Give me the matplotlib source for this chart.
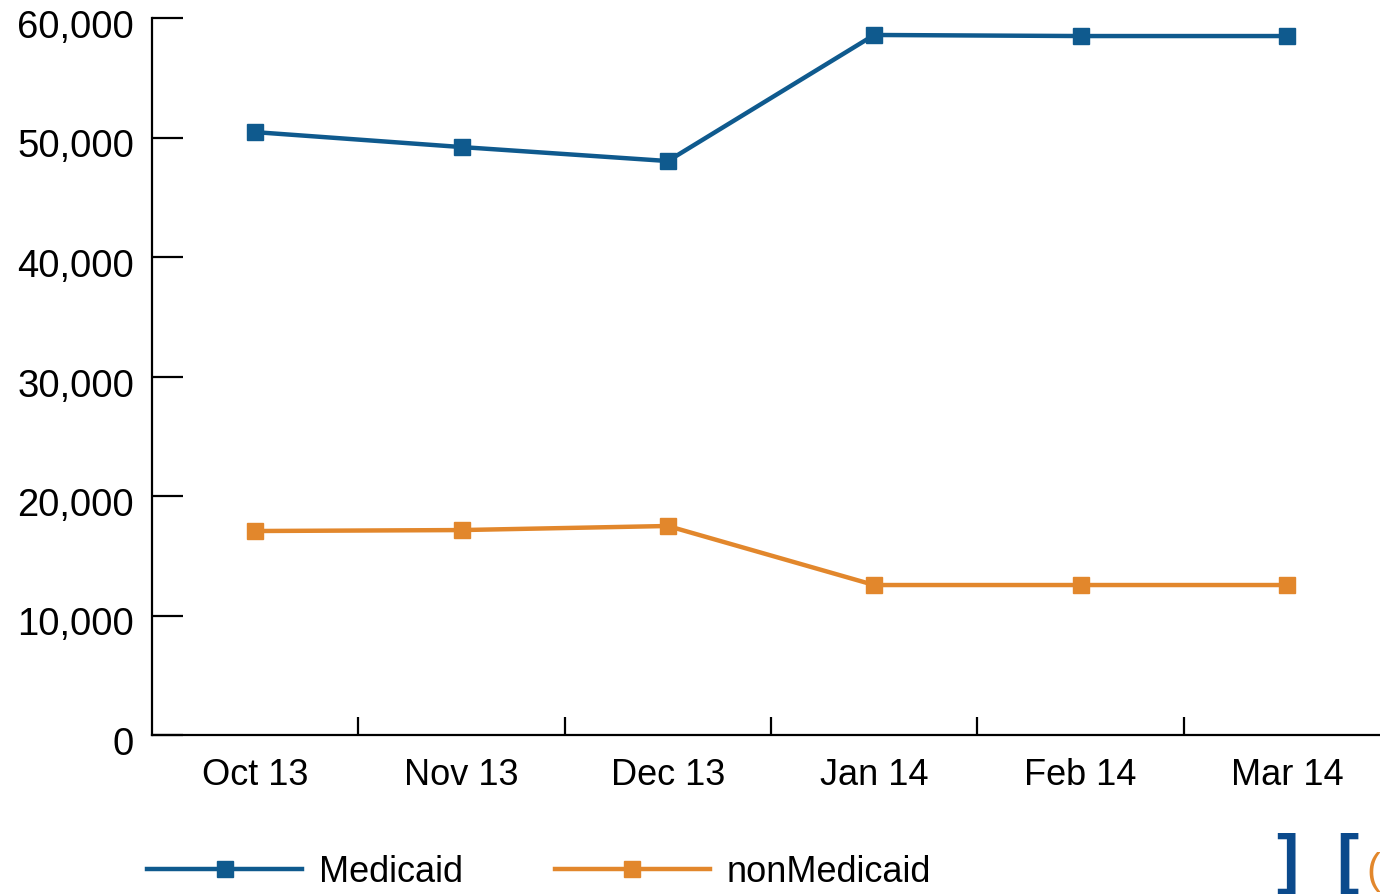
import matplotlib.pyplot as plt
import matplotlib.transforms as mtransforms
from matplotlib.ticker import FuncFormatter

months = ['Oct 13', 'Nov 13', 'Dec 13', 'Jan 14', 'Feb 14', 'Mar 14']
medicaid = [50450, 49200, 48030, 58580, 58490, 58490]
non_medicaid = [17070, 17150, 17490, 12550, 12550, 12550]

blue = '#0f5a8e'
orange = '#e2872c'
font = ['Liberation Sans', 'DejaVu Sans']

W, H = 1380, 895
fig = plt.figure(figsize=(W / 100, H / 100), dpi=100)
ax = fig.add_axes([152 / W, 1 - 736 / H, (1390 - 152) / W, (736 - 19) / H])

x = list(range(len(months)))
ax.plot(x, medicaid, color=blue, lw=3.2, marker='s', ms=12, label='Medicaid',
        clip_on=False)
ax.plot(x, non_medicaid, color=orange, lw=3.2, marker='s', ms=12, label='nonMedicaid',
        clip_on=False)

ax.set_xlim(-0.5, 5.5)
ax.set_ylim(0, 60000)

for s in ['top', 'right']:
    ax.spines[s].set_visible(False)
for s in ['left', 'bottom']:
    ax.spines[s].set_linewidth(1.6)

ax.set_yticks(range(0, 60001, 10000))
ax.yaxis.set_major_formatter(FuncFormatter(lambda v, p: f'{int(v):,}'))
ax.tick_params(axis='y', direction='in', length=22, width=1.6, pad=13)
shift = mtransforms.ScaledTranslation(0, -5 / 100, fig.dpi_scale_trans)
for lab in ax.get_yticklabels():
    lab.set_family(font)
    lab.set_fontsize(27.5)
    lab.set_transform(lab.get_transform() + shift)

ax.set_xticks(x)
ax.set_xticklabels(months, family=font, fontsize=26)
ax.set_xticks([i + 0.5 for i in range(5)], minor=True)
ax.tick_params(axis='x', which='major', length=0, pad=16)
ax.tick_params(axis='x', which='minor', direction='in', length=13, width=1.6)

fig.legend(loc='center left', bbox_to_anchor=(147 / W, 1 - 873 / H), ncol=2,
           frameon=False, borderpad=0, borderaxespad=0, handlelength=4.3,
           handletextpad=0.45, columnspacing=2.55,
           prop={'family': font, 'size': 26})

# logo fragment in the corner
fig.text(1276 / W, 1 - 895 / H, ']', color='#0b4a8c', fontsize=48, fontweight='bold',
         va='bottom', family=font)
fig.text(1336 / W, 1 - 895 / H, '[', color='#0b4a8c', fontsize=48, fontweight='bold',
         va='bottom', family=font)
fig.text(1366 / W, 1 - 872 / H, '(', color=orange, fontsize=30,
         va='center', family=font)

fig.savefig('out.png', dpi=100)
